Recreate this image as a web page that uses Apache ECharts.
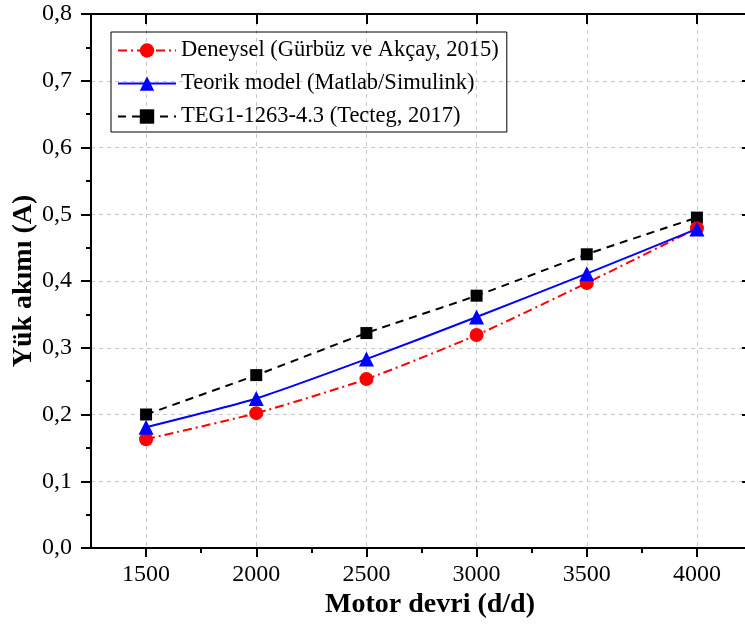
<!DOCTYPE html>
<html>
<head>
<meta charset="utf-8">
<script src="https://cdn.jsdelivr.net/npm/echarts@6/dist/echarts.min.js"></script>
<style>
  html, body { margin: 0; padding: 0; background: #fff; }
  #chart { width: 745px; height: 625px; }
</style>
</head>
<body>
<div id="chart"></div>
<script>
// motor devri (d/d)
var motorDevri = [1500, 2000, 2500, 3000, 3500, 4000];
// yük akımı (A)
var deneysel = [0.163, 0.202, 0.253, 0.319, 0.397, 0.479];
var teorik = [0.181, 0.224, 0.283, 0.346, 0.411, 0.478];
var teg = [0.200, 0.259, 0.322, 0.378, 0.440, 0.495];

var xMajor = [1500, 2000, 2500, 3000, 3500, 4000];
var xMinor = [1750, 2250, 2750, 3250, 3750];

var fontName = "Liberation Serif";

function pairs(ys) {
  return motorDevri.map(function (x, i) { return [x, ys[i]]; });
}

var myChart = echarts.init(document.getElementById("chart"));

var option = {
  animation: false,
  backgroundColor: "#fff",
  grid: { left: 91, top: 14, width: 661, height: 534, containLabel: false, outerBoundsMode: "none" },
  legend: {
    orient: "vertical",
    left: 111,
    top: 32,
    padding: [7, 8, 4, 6],
    itemGap: 10,
    itemWidth: 58,
    itemHeight: 18,
    borderColor: "#000",
    borderWidth: 1,
    textStyle: { fontFamily: fontName, fontSize: 22.5, color: "#000" },
    data: ["Deneysel (Gürbüz ve Akçay, 2015)", "Teorik model (Matlab/Simulink)", "TEG1-1263-4.3 (Tecteg, 2017)"]
  },
  xAxis: [
    {
      type: "value",
      min: 1250,
      max: 4250,
      position: "bottom",
      name: "Motor devri (d/d)",
      nameLocation: "middle",
      nameGap: 43,
      nameMoveOverlap: false,
      nameTextStyle: { fontFamily: fontName, fontSize: 28, fontWeight: "bold", color: "#000", padding: [0, 0, 0, 17] },
      axisLine: { show: true, onZero: false, lineStyle: { color: "#000", width: 2 } },
      axisTick: { show: true, inside: false, length: 9, customValues: xMajor, lineStyle: { color: "#000", width: 2 } },
      axisLabel: {
        show: true, margin: 15, customValues: xMajor, fontFamily: fontName, fontSize: 24, color: "#000",
        formatter: function (v) { return String(v); }
      },
      splitLine: { show: true, lineStyle: { color: "#c8c8c8", type: [4, 4], width: 1 } }
    },
    {
      type: "value",
      min: 1250,
      max: 4250,
      position: "bottom",
      axisLine: { show: false, onZero: false },
      axisTick: { show: true, inside: false, length: 5, customValues: xMinor, lineStyle: { color: "#000", width: 2 } },
      axisLabel: { show: false },
      splitLine: { show: false }
    },
    {
      type: "value",
      min: 1250,
      max: 4250,
      position: "top",
      axisLine: { show: true, onZero: false, lineStyle: { color: "#000", width: 2 } },
      axisTick: { show: true, inside: true, length: 10, customValues: xMajor, lineStyle: { color: "#000", width: 2 } },
      axisLabel: { show: false },
      splitLine: { show: false }
    }
  ],
  yAxis: [
    {
      type: "value",
      min: 0,
      max: 0.8,
      interval: 0.1,
      position: "left",
      name: "Yük akımı (A)",
      nameLocation: "middle",
      nameGap: 53,
      nameMoveOverlap: false,
      nameTextStyle: { fontFamily: fontName, fontSize: 28, fontWeight: "bold", color: "#000" },
      axisLine: { show: true, onZero: false, lineStyle: { color: "#000", width: 2 } },
      axisTick: { show: true, inside: false, length: 10, lineStyle: { color: "#000", width: 2 } },
      minorTick: { show: true, splitNumber: 2, length: 5, lineStyle: { color: "#000", width: 2 } },
      axisLabel: {
        margin: 19,
        fontFamily: fontName,
        fontSize: 24,
        color: "#000",
        formatter: function (v) { return v.toFixed(1).replace(".", ","); }
      },
      splitLine: { show: true, lineStyle: { color: "#c8c8c8", type: [4, 4], width: 1 } }
    },
    {
      type: "value",
      min: 0,
      max: 0.8,
      interval: 0.1,
      position: "right",
      axisLine: { show: false, onZero: false },
      axisTick: { show: true, inside: true, length: 10, lineStyle: { color: "#000", width: 2 } },
      axisLabel: { show: false },
      splitLine: { show: false }
    }
  ],
  series: [
    {
      name: "Deneysel (Gürbüz ve Akçay, 2015)",
      type: "line",
      data: pairs(deneysel),
      smooth: 0.2,
      symbol: "circle",
      symbolSize: 14,
      itemStyle: { color: "#ff0000" },
      lineStyle: { color: "#ff0000", width: 2, type: [9, 4, 2, 4] },
      z: 3
    },
    {
      name: "Teorik model (Matlab/Simulink)",
      type: "line",
      data: pairs(teorik),
      smooth: 0.2,
      symbol: "triangle",
      symbolSize: 15,
      itemStyle: { color: "#0000ff" },
      lineStyle: { color: "#0000ff", width: 2, type: "solid" },
      z: 4
    },
    {
      name: "TEG1-1263-4.3 (Tecteg, 2017)",
      type: "line",
      data: pairs(teg),
      smooth: 0.2,
      symbol: "rect",
      symbolSize: 12,
      itemStyle: { color: "#000000" },
      lineStyle: { color: "#000000", width: 2, type: [8, 6] },
      z: 2
    }
  ]
};

myChart.setOption(option);
</script>
</body>
</html>
